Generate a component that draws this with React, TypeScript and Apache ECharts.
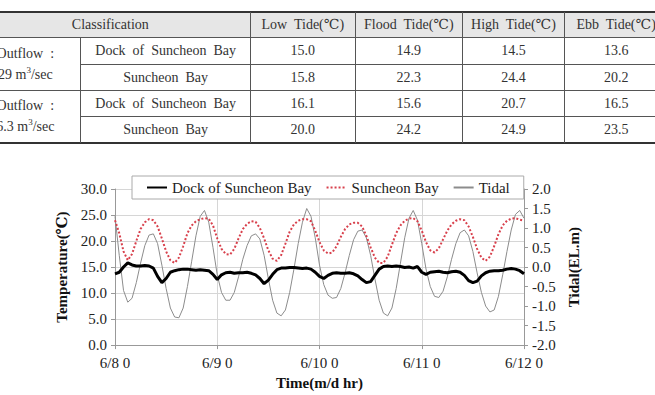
import React, { useEffect, useRef } from "react";
import * as echarts from "echarts";

// ---- chart data (hourly, 6/8 0h .. 6/12 0h) ----
const xTickLabels = ["6/8 0", "6/9 0", "6/10 0", "6/11 0", "6/12 0"];

const dockSeries = [
  13.7, 14.0, 15.0, 15.8, 15.4, 15.2, 15.2, 15.3, 15.2, 14.8, 13.2, 12.0, 12.8, 14.0, 14.3, 14.5,
  14.6, 14.6, 14.5, 14.4, 14.5, 14.4, 14.3, 13.6, 12.6, 13.5, 13.9, 14.0, 13.8, 13.9, 13.9, 14.0,
  13.8, 13.5, 12.8, 11.8, 12.5, 13.6, 14.5, 14.8, 14.8, 14.9, 14.9, 14.8, 14.7, 14.8, 14.6, 14.0,
  13.2, 12.8, 13.4, 13.8, 13.9, 13.8, 13.8, 13.9, 13.7, 13.3, 12.6, 12.0, 12.2, 13.4, 14.6, 15.1,
  15.2, 15.1, 15.2, 15.1, 14.9, 15.0, 14.8, 15.1, 14.0, 13.6, 14.0, 14.1, 14.2, 14.0, 13.9, 14.1,
  14.2, 14.0, 13.4, 12.4, 12.0, 12.3, 13.3, 13.9, 14.2, 14.3, 14.3, 14.4, 14.6, 14.7, 14.6, 14.3,
  13.7,
];

const suncheonSeries = [
  24.0, 21.5, 18.0, 16.3, 17.5, 20.0, 22.3, 23.6, 24.2, 24.0, 22.8, 20.5, 18.0, 16.3, 15.8, 16.8,
  19.0, 21.5, 23.0, 23.8, 24.2, 24.4, 24.3, 23.0, 20.5, 18.5, 17.5, 17.4, 18.5, 20.5, 22.3, 23.3,
  23.8, 23.7, 22.5, 20.5, 18.2, 16.6, 16.2, 17.3, 19.5, 21.8, 23.2, 23.9, 24.2, 24.2, 23.8, 22.0,
  19.8, 18.2, 17.6, 17.8, 19.0, 20.8, 22.3, 23.2, 23.5, 23.5, 22.8, 21.0, 18.8, 16.8, 15.8, 15.8,
  17.0, 19.3, 21.5, 23.0, 23.9, 24.3, 24.4, 23.8, 22.0, 19.8, 18.2, 17.8, 18.6, 20.3, 22.0, 23.2,
  23.9, 24.2, 24.0, 22.8, 20.8, 18.5, 16.8, 16.2, 17.0, 19.0, 21.3, 23.0, 23.9, 24.3, 24.4, 24.1,
  23.9,
];

const tidalSeries = [
  1.30, 0.30, -0.60, -0.90, -0.80, -0.40, 0.10, 0.55, 0.82, 0.85, 0.60, 0.05, -0.55, -1.05, -1.28, -1.30,
  -1.05, -0.50, 0.15, 0.80, 1.30, 1.45, 1.15, 0.50, -0.20, -0.65, -0.85, -0.85, -0.65, -0.25, 0.20, 0.55,
  0.80, 0.85, 0.72, 0.30, -0.30, -0.85, -1.18, -1.25, -1.10, -0.65, -0.05, 0.60, 1.15, 1.50, 1.30, 0.75,
  0.05, -0.45, -0.72, -0.80, -0.78, -0.55, -0.15, 0.30, 0.70, 0.92, 0.95, 0.75, 0.30, -0.30, -0.85, -1.18,
  -1.25, -1.05, -0.55, 0.10, 0.75, 1.25, 1.45, 1.20, 0.60, -0.05, -0.50, -0.75, -0.78, -0.62, -0.25, 0.20,
  0.60, 0.88, 0.95, 0.80, 0.40, -0.15, -0.65, -1.00, -1.15, -1.10, -0.75, -0.20, 0.40, 0.95, 1.35, 1.45,
  1.25,
];

const seriesNames = ["Dock of Suncheon Bay", "Suncheon Bay", "Tidal"];

// ---- table data ----
const tableTitle = "ble 3. Simulation results on tidal difference";
const tableHeaders = ["Classification", "Low  Tide(℃)", "Flood  Tide(℃)", "High  Tide(℃)", "Ebb  Tide(℃)"];
const outflowRates = ["29", "6.3"];
const stationNames = ["Dock  of  Suncheon  Bay", "Suncheon  Bay"];
const tableValues = [
  ["15.0", "14.9", "14.5", "13.6"],
  ["15.8", "22.3", "24.4", "20.2"],
  ["16.1", "15.6", "20.7", "16.5"],
  ["20.0", "24.2", "24.9", "23.5"],
];

const SERIF = "'Liberation Serif', 'DejaVu Serif', serif";

const colEdges = [-30, 80.7, 250.7, 355, 462.7, 564.3, 668];
const rowEdges = [12, 37.3, 64, 90.3, 116.3, 142.7];
const TXT = "#333";

function Cell(props: { x0: number; x1: number; y0: number; y1: number; children: React.ReactNode; bg?: string }) {
  const { x0, x1, y0, y1, children, bg } = props;
  return (
    <div
      style={{
        position: "absolute",
        left: x0,
        top: y0,
        width: x1 - x0,
        height: y1 - y0,
        display: "flex",
        alignItems: "center",
        justifyContent: "center",
        background: bg || "transparent",
        whiteSpace: "pre",
        fontFamily: SERIF,
        fontSize: 14,
        color: TXT,
        lineHeight: "21px",
        textAlign: "center",
      }}
    >
      {children}
    </div>
  );
}

function Table() {
  const cells: React.ReactNode[] = [];
  cells.push(
    <Cell key="hbg" x0={colEdges[0]} x1={colEdges[6]} y0={rowEdges[0]} y1={rowEdges[1]} bg="#e6e6e6">
      {""}
    </Cell>
  );
  cells.push(
    <Cell key="h0" x0={colEdges[0]} x1={colEdges[2]} y0={rowEdges[0]} y1={rowEdges[1]}>
      {tableHeaders[0]}
    </Cell>
  );
  for (let c = 1; c < 5; c++) {
    cells.push(
      <Cell key={"h" + c} x0={colEdges[c + 1]} x1={colEdges[c + 2]} y0={rowEdges[0]} y1={rowEdges[1]}>
        {tableHeaders[c]}
      </Cell>
    );
  }
  for (let g = 0; g < 2; g++) {
    cells.push(
      <Cell key={"g" + g} x0={colEdges[0]} x1={colEdges[1]} y0={rowEdges[1 + g * 2]} y1={rowEdges[3 + g * 2]}>
        <span>
          {"Outflow  :"}
          <br />
          {outflowRates[g] + " m"}
          <sup style={{ fontSize: 9, verticalAlign: "6px", lineHeight: 0 }}>3</sup>
          {"/sec"}
        </span>
      </Cell>
    );
    for (let s = 0; s < 2; s++) {
      const r = g * 2 + s;
      cells.push(
        <Cell key={"s" + r} x0={colEdges[1]} x1={colEdges[2]} y0={rowEdges[1 + r]} y1={rowEdges[2 + r]}>
          {stationNames[s]}
        </Cell>
      );
      for (let c = 0; c < 4; c++) {
        cells.push(
          <Cell key={"v" + r + c} x0={colEdges[c + 2]} x1={colEdges[c + 3]} y0={rowEdges[1 + r]} y1={rowEdges[2 + r]}>
            {tableValues[r][c]}
          </Cell>
        );
      }
    }
  }
  const lines: React.ReactNode[] = [];
  rowEdges.forEach((y, i) => {
    const thick = i === 0 || i === rowEdges.length - 1;
    let x0 = colEdges[0];
    if (i === 2 || i === 4) x0 = colEdges[1];
    lines.push(
      <div
        key={"hl" + i}
        style={{
          position: "absolute",
          left: x0,
          top: y - (thick ? 1 : 0.5),
          width: colEdges[6] - x0,
          height: thick ? 2 : 1,
          background: thick ? "#333" : "#555",
        }}
      />
    );
  });
  colEdges.slice(1, 6).forEach((x, i) => {
    const y0 = i === 0 ? rowEdges[1] : rowEdges[0];
    lines.push(
      <div
        key={"vl" + i}
        style={{
          position: "absolute",
          left: x - 0.5,
          top: y0,
          width: 1,
          height: rowEdges[5] - y0,
          background: "#555",
        }}
      />
    );
  });
  return (
    <>
      <div
        style={{
          position: "absolute",
          left: 2,
          top: -12,
          fontFamily: SERIF,
          fontSize: 14,
          color: "#777",
          whiteSpace: "pre",
          wordSpacing: 3,
        }}
      >
        {tableTitle}
      </div>
      {cells}
      {lines}
    </>
  );
}

export default function App() {
  const ref = useRef<HTMLDivElement>(null);

  useEffect(() => {
    if (!ref.current) return;
    const chart = echarts.init(ref.current, null, { renderer: "svg" });
    const toPairs = (arr: number[]) => arr.map((v, i) => [i, v]);
    const axisText = { color: "#222", fontSize: 15, fontFamily: SERIF };
    const nameText = { color: "#111", fontSize: 15, fontFamily: SERIF, fontWeight: "bold" as const };
    chart.setOption({
      animation: false,
      backgroundColor: "#fff",
      grid: { left: 115, top: 39, width: 409, height: 160, containLabel: false },
      legend: {
        data: seriesNames,
        left: 132,
        top: 26,
        padding: [4, 14, 4, 14],
        itemGap: 14,
        itemWidth: 20,
        itemHeight: 10,
        borderColor: "#aaa",
        borderWidth: 1,
        backgroundColor: "#fff",
        itemStyle: { opacity: 0 },
        textStyle: { color: "#222", fontSize: 15, fontFamily: SERIF },
      },
      xAxis: {
        type: "value",
        min: 0,
        max: 96,
        interval: 24,
        axisLabel: {
          ...axisText,
          margin: 10,
          formatter: (v: number) => xTickLabels[Math.round(v / 24)] ?? "",
        },
        axisLine: { show: true, lineStyle: { color: "#999", width: 1 } },
        axisTick: { show: true, length: 4, lineStyle: { color: "#999" } },
        splitLine: { show: true, lineStyle: { color: "#d6d6d6", width: 1 } },
        name: "Time(m/d hr)",
        nameLocation: "middle",
        nameGap: 26,
        nameTextStyle: nameText,
      },
      yAxis: [
        {
          type: "value",
          min: 0,
          max: 30,
          interval: 5,
          position: "left",
          axisLabel: { ...axisText, margin: 8, formatter: (v: number) => v.toFixed(1) },
          axisLine: { show: true, lineStyle: { color: "#999", width: 1 } },
          axisTick: { show: true, length: 4, lineStyle: { color: "#999" } },
          splitLine: { show: true, lineStyle: { color: "#d6d6d6", width: 1 } },
          name: "Temperature(℃)",
          nameLocation: "middle",
          nameRotate: 90,
          nameGap: 45,
          nameTextStyle: nameText,
        },
        {
          type: "value",
          min: -2,
          max: 2,
          interval: 0.5,
          position: "right",
          axisLabel: { ...axisText, margin: 8, formatter: (v: number) => v.toFixed(1) },
          axisLine: { show: true, lineStyle: { color: "#999", width: 1 } },
          axisTick: { show: true, length: 4, lineStyle: { color: "#999" } },
          splitLine: { show: false },
          name: "Tidal(EL.m)",
          nameLocation: "middle",
          nameRotate: 90,
          nameGap: 42,
          nameTextStyle: nameText,
        },
      ],
      series: [
        {
          name: seriesNames[0],
          type: "line",
          yAxisIndex: 0,
          data: toPairs(dockSeries),
          symbol: "none",
          z: 5,
          lineStyle: { color: "#000", width: 3 },
          itemStyle: { color: "#000" },
        },
        {
          name: seriesNames[1],
          type: "line",
          yAxisIndex: 0,
          data: toPairs(suncheonSeries),
          symbol: "none",
          z: 4,
          lineStyle: { color: "#d8404c", width: 2, type: "dotted" },
          itemStyle: { color: "#d8404c" },
        },
        {
          name: seriesNames[2],
          type: "line",
          yAxisIndex: 1,
          data: toPairs(tidalSeries),
          symbol: "none",
          z: 3,
          lineStyle: { color: "#8c8c8c", width: 1 },
          itemStyle: { color: "#8c8c8c" },
        },
      ],
    });
    return () => chart.dispose();
  }, []);

  return (
    <div
      style={{
        position: "fixed",
        left: 0,
        top: 0,
        width: 655,
        height: 395,
        background: "#fff",
        overflow: "hidden",
      }}
    >
      <Table />
      <div ref={ref} style={{ position: "absolute", left: 0, top: 150, width: 655, height: 245 }} />
    </div>
  );
}
